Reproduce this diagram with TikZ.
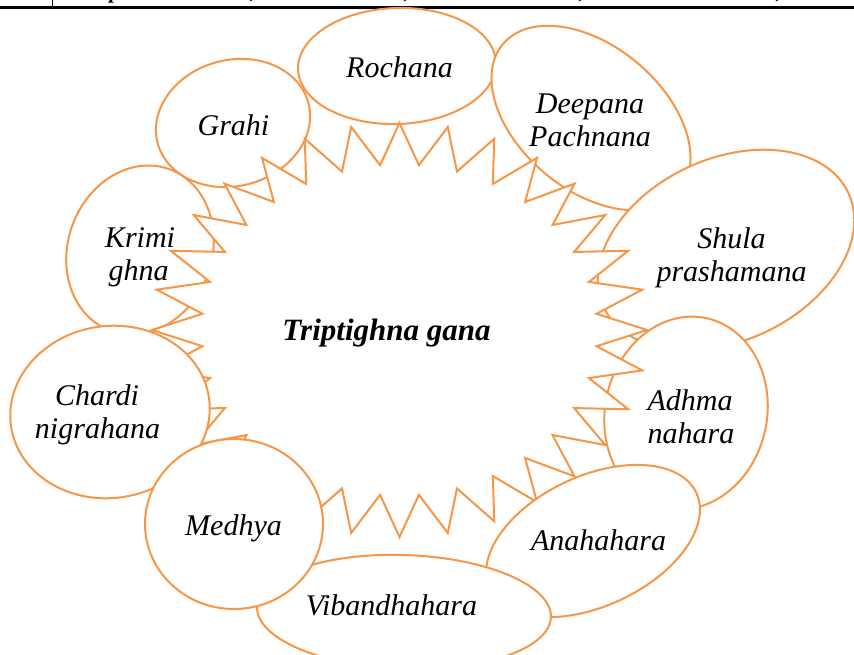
\documentclass[tikz,border=0pt]{standalone}
\usepackage{fontspec}
\setmainfont{Liberation Serif}
\definecolor{ora}{RGB}{247,150,70}
\begin{document}
\begin{tikzpicture}[x=1pt,y=-1pt,
  ell/.style={draw=ora, line width=2pt, fill=white, line join=miter},
  lbl/.style={font=\itshape\fontsize{30}{34}\selectfont, inner sep=0pt, anchor=base},
  ttl/.style={font=\bfseries\itshape\fontsize{31}{34}\selectfont, inner sep=0pt, anchor=base},
  frag/.style={font=\bfseries\itshape\fontsize{22}{22}\selectfont, inner sep=0pt, anchor=base}]
\useasboundingbox (0,0) rectangle (854,654);
% table border at top
\draw[line width=2.2pt] (0,7.5) -- (854,7.5);
\draw[line width=1pt] (52,0) -- (52,7.5);
\begin{scope}
  \clip (53,0) rectangle (854,6.3);
  \node[frag] (f1) at (115,-2) {p};
  \node[frag] (f2) at (253,-2) {,};
  \node[frag] (f3) at (407,-2) {,};
  \node[frag] (f4) at (582,-2) {,};
  \node[frag] (f5) at (779,-2) {,};
\end{scope}
% ellipses below the star
\filldraw[ell, rotate around={2:(397,66)}] (397,66) ellipse [x radius=99pt, y radius=58pt];
\filldraw[ell, rotate around={-40:(591,118)}] (591,118) ellipse [x radius=115pt, y radius=72pt];
\filldraw[ell, rotate around={15:(233,123)}] (233,123) ellipse [x radius=78pt, y radius=63pt];
\filldraw[ell, rotate around={-20:(140,250)}] (140,250) ellipse [x radius=72pt, y radius=86pt];
\filldraw[ell, rotate around={25:(726,250)}] (726,250) ellipse [x radius=135pt, y radius=91pt];
\filldraw[ell, rotate around={-12:(686,413)}] (686,413) ellipse [x radius=81pt, y radius=97pt];
% central star
\filldraw[ell] plot[samples at={0,...,63}, variable=\k]
  ({399.5+(1-0.2*mod(\k,2))*247.5*cos(\k*5.625)}, {330+(1-0.2*mod(\k,2))*207*sin(\k*5.625)}) -- cycle;
% ellipses above the star
\filldraw[ell, rotate around={25:(593,541)}] (593,541) ellipse [x radius=114pt, y radius=65pt];
\filldraw[ell, rotate around={-2:(404,612)}] (404,612) ellipse [x radius=147pt, y radius=57pt];
\filldraw[ell, rotate around={8:(110,412)}] (110,412) ellipse [x radius=100pt, y radius=86pt];
\filldraw[ell] (234,524) ellipse [x radius=89pt, y radius=85pt];
% labels
\node[ttl] (title) at (386.5,340) {Triptighna gana};
\node[lbl] (rochana) at (399.5,77) {Rochana};
\node[lbl] (grahi) at (233.5,135) {Grahi};
\node[lbl] (deepana1) at (590,113) {Deepana};
\node[lbl] (deepana2) at (590,146) {Pachnana};
\node[lbl] (shula1) at (731.5,248) {Shula};
\node[lbl] (shula2) at (731.5,281) {prashamana};
\node[lbl] (adhma1) at (690,410) {Adhma};
\node[lbl] (adhma2) at (691,443) {nahara};
\node[lbl] (krimi1) at (140,247) {Krimi};
\node[lbl] (krimi2) at (138.5,280) {ghna};
\node[lbl] (chardi1) at (97,405) {Chardi};
\node[lbl] (chardi2) at (97.5,438) {nigrahana};
\node[lbl] (medhya) at (233.5,535) {Medhya};
\node[lbl] (anaha) at (598.5,550) {Anahahara};
\node[lbl] (viband) at (391.5,615) {Vibandhahara};
\end{tikzpicture}
\end{document}
